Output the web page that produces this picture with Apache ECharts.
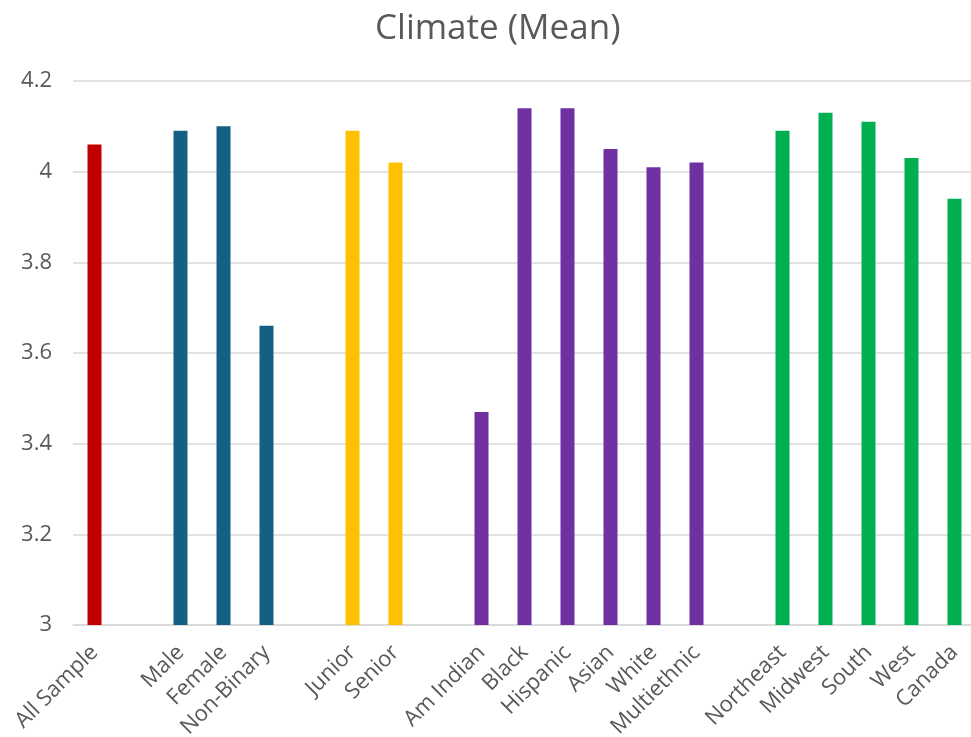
<!DOCTYPE html>
<html>
<head>
<meta charset="utf-8">
<script src="https://cdn.jsdelivr.net/npm/echarts@6/dist/echarts.min.js"></script>
<style>
  html, body { margin: 0; padding: 0; background: #fff; }
  #chart { width: 971px; height: 737px; }
</style>
</head>
<body>
<div id="chart"></div>
<script>
// Climate means by respondent group
const overallNames = ['All Sample'];
const overallValues = [4.06];
const genderNames = ['Male', 'Female', 'Non-Binary'];
const genderValues = [4.09, 4.10, 3.66];
const levelNames = ['Junior', 'Senior'];
const levelValues = [4.09, 4.02];
const raceNames = ['Am Indian', 'Black', 'Hispanic', 'Asian', 'White', 'Multiethnic'];
const raceValues = [3.47, 4.14, 4.14, 4.05, 4.01, 4.02];
const regionNames = ['Northeast', 'Midwest', 'South', 'West', 'Canada'];
const regionValues = [4.09, 4.13, 4.11, 4.03, 3.94];
const yTicks = [3, 3.2, 3.4, 3.6, 3.8, 4, 4.2];

const groups = [
  { names: overallNames, values: overallValues, color: '#C00000' },
  { names: genderNames, values: genderValues, color: '#156082' },
  { names: levelNames, values: levelValues, color: '#FFC000' },
  { names: raceNames, values: raceValues, color: '#7030A0' },
  { names: regionNames, values: regionValues, color: '#00B050' }
];

// Flatten groups, leaving an empty slot between each group
const categories = [];
const seriesData = [];
groups.forEach((g, gi) => {
  if (gi > 0) {
    categories.push('');
    seriesData.push(null);
  }
  g.names.forEach((n, i) => {
    categories.push(n);
    seriesData.push({ value: g.values[i], itemStyle: { color: g.color } });
  });
});

const font = 'Open Sans, Liberation Sans, sans-serif';
const chart = echarts.init(document.getElementById('chart'));
chart.setOption({
  animation: false,
  title: {
    text: 'Climate (Mean)',
    left: 370,
    top: 7,
    textStyle: { fontFamily: font, fontSize: 35, fontWeight: 'normal', color: '#595959' }
  },
  // plot area runs slightly past the right edge of the canvas
  grid: { left: 73, width: 903, top: 81, bottom: 112, outerBoundsMode: 'none', containLabel: false },
  xAxis: {
    type: 'category',
    data: categories,
    axisLine: { show: true, lineStyle: { color: '#d9d9d9', width: 1.5 } },
    axisTick: { show: false },
    axisLabel: {
      interval: 0,
      rotate: 45,
      margin: 24,
      fontFamily: font,
      fontSize: 22,
      color: '#595959'
    }
  },
  yAxis: {
    type: 'value',
    min: yTicks[0],
    max: yTicks[yTicks.length - 1],
    interval: 0.2,
    axisLine: { show: false },
    axisTick: { show: false },
    splitLine: { lineStyle: { color: '#d9d9d9', width: 1.5 } },
    axisLabel: {
      margin: 21,
      fontFamily: font,
      fontSize: 22,
      color: '#595959',
      formatter: v => String(Math.round(v * 10) / 10)
    }
  },
  series: [{
    type: 'bar',
    data: seriesData,
    barWidth: 14
  }]
});
</script>
</body>
</html>
